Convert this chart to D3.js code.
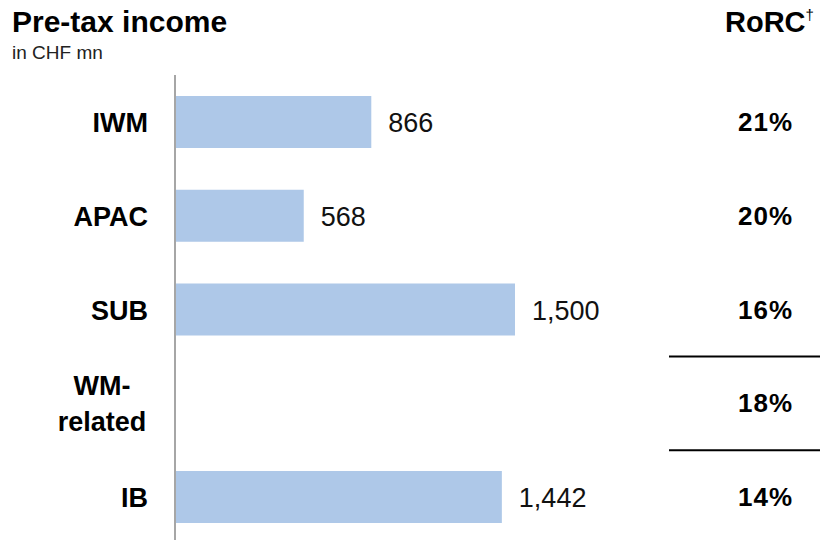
<!DOCTYPE html>
<html>
<head>
<meta charset="utf-8">
<script src="https://cdn.jsdelivr.net/npm/d3@7"></script>
<style>
  html, body { margin: 0; padding: 0; background: #fff; }
  svg { display: block; font-family: "Liberation Sans", Arial, Helvetica, sans-serif; }
</style>
</head>
<body>
<svg id="chart" width="820" height="540"></svg>
<script>
// ---- data ----
const categories = ["IWM", "APAC", "SUB", "WM-related", "IB"];
const pretaxIncome = [866, 568, 1500, null, 1442];
const rorc = ["21%", "20%", "16%", "18%", "14%"];
const valueLabels = ["866", "568", "1,500", "", "1,442"];
const categoryLines = [["IWM"], ["APAC"], ["SUB"], ["WM-", "related"], ["IB"]];

const svg = d3.select("#chart");
const W = 820, H = 540;

const x = d3.scaleLinear().domain([0, 1500]).range([175, 515]);
const y = d3.scalePoint().domain(categories).range([122, 497]);
const barH = 52;

// title
svg.append("text").attr("x", 12).attr("y", 32)
  .attr("font-size", 30).attr("font-weight", "bold").attr("fill", "#000")
  .text("Pre-tax income");
svg.append("text").attr("x", 12).attr("y", 59)
  .attr("font-size", 19).attr("fill", "#222")
  .text("in CHF mn");

// RoRC header
const hdr = svg.append("text").attr("x", 725).attr("y", 32)
  .attr("font-size", 29).attr("font-weight", "bold").attr("fill", "#000");
hdr.append("tspan").text("RoRC");
hdr.append("tspan").attr("font-size", 15).attr("font-weight", "normal")
  .attr("dy", -12).text("\u2020");

// bars
const rows = categories.map((c, i) => ({ cat: c, v: pretaxIncome[i], lbl: valueLabels[i], r: rorc[i], lines: categoryLines[i] }));

svg.append("g").selectAll("rect")
  .data(rows.filter(d => d.v != null))
  .join("rect")
  .attr("x", x(0))
  .attr("y", d => y(d.cat) - barH / 2)
  .attr("width", d => x(d.v) - x(0))
  .attr("height", barH)
  .attr("fill", "#aec8e8");

// axis line
svg.append("line").attr("x1", 175).attr("x2", 175).attr("y1", 75).attr("y2", H)
  .attr("stroke", "#a6a6a6").attr("stroke-width", 2);

// value labels
svg.append("g").selectAll("text")
  .data(rows.filter(d => d.v != null))
  .join("text")
  .attr("x", d => x(d.v) + 17)
  .attr("y", d => y(d.cat) + 10)
  .attr("font-size", 27).attr("fill", "#111")
  .text(d => d.lbl);

// category labels
const catG = svg.append("g");
rows.forEach(d => {
  if (d.lines.length === 1) {
    catG.append("text")
      .attr("x", 148).attr("y", y(d.cat) + 10)
      .attr("text-anchor", "end")
      .attr("font-size", 27).attr("font-weight", "bold").attr("fill", "#000")
      .text(d.lines[0]);
  } else {
    d.lines.forEach((ln, j) => {
      catG.append("text")
        .attr("x", 102).attr("y", y(d.cat) - 8 + j * 36)
        .attr("text-anchor", "middle")
        .attr("font-size", 27).attr("font-weight", "bold").attr("fill", "#000")
        .text(ln);
    });
  }
});

// RoRC values
svg.append("g").selectAll("text")
  .data(rows)
  .join("text")
  .attr("x", 738)
  .attr("y", d => y(d.cat) + 9)
  .attr("font-size", 26).attr("font-weight", "bold").attr("fill", "#000")
  .attr("letter-spacing", 1)
  .text(d => d.r);

// separator lines around WM-related
const wmY = y("WM-related");
const step = y.step();
[wmY - step / 2, wmY + step / 2].forEach(yy => {
  svg.append("line").attr("x1", 669).attr("x2", W).attr("y1", yy).attr("y2", yy)
    .attr("stroke", "#000").attr("stroke-width", 2);
});
</script>
</body>
</html>
